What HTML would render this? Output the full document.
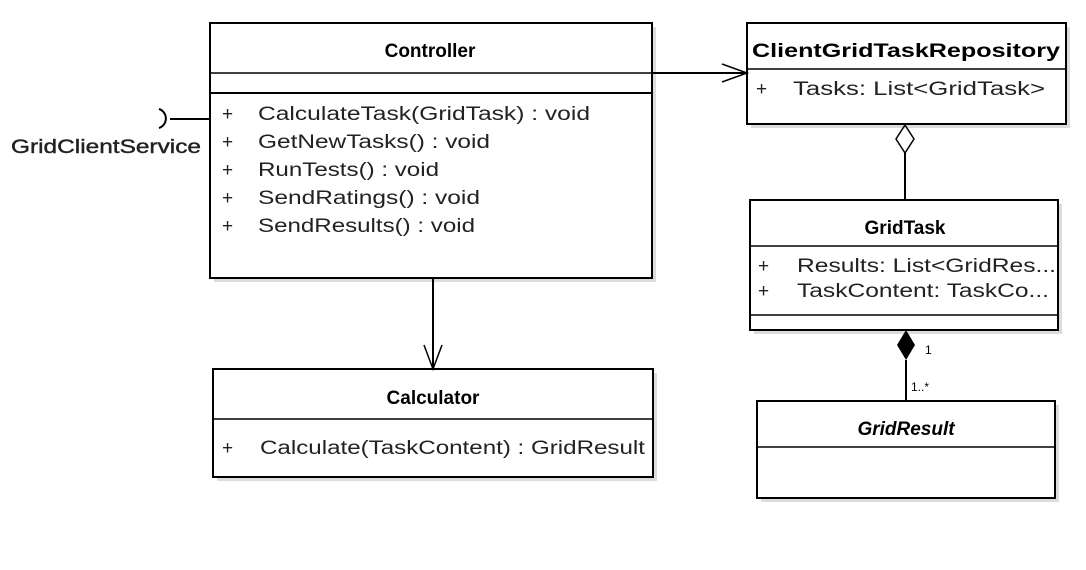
<!DOCTYPE html>
<html><head><style>body{margin:0;background:#fff}svg{display:block}</style></head><body>
<svg width="1086" height="570" xmlns="http://www.w3.org/2000/svg" font-family="Liberation Sans, Arial, sans-serif">
<g fill="#dcdcdc">
<rect x="214" y="27" width="442" height="255"/>
<rect x="217" y="373" width="440" height="108"/>
<rect x="751" y="27" width="319" height="101"/>
<rect x="754" y="204" width="308" height="130"/>
<rect x="761" y="405" width="298" height="97"/>
</g>
<g fill="#fff" stroke="#000" stroke-width="2">
<rect x="210" y="23" width="442" height="255"/>
<rect x="213" y="369" width="440" height="108"/>
<rect x="747" y="23" width="319" height="101"/>
<rect x="750" y="200" width="308" height="130"/>
<rect x="757" y="401" width="298" height="97"/>
</g>
<g stroke="#000" stroke-width="1.5">
<line x1="210" y1="73" x2="652" y2="73"/>
<line x1="210" y1="93" x2="652" y2="93" stroke-width="2"/>
<line x1="213" y1="419" x2="653" y2="419"/>
<line x1="747" y1="69" x2="1066" y2="69"/>
<line x1="750" y1="246" x2="1058" y2="246"/>
<line x1="750" y1="315" x2="1058" y2="315"/>
<line x1="757" y1="447" x2="1055" y2="447"/>
</g>
<g stroke="#000" stroke-width="2" fill="none">
<line x1="170" y1="119" x2="210" y2="119"/>
<path d="M159,109 A10,10 0 0 1 159,128"/>
<line x1="652" y1="73" x2="747" y2="73"/>
<path d="M722,64 L747,73 L722,82" stroke-width="1.5"/>
<line x1="433" y1="278" x2="433" y2="369"/>
<path d="M424,345 L433,369 L442,345" stroke-width="1.5"/>
<line x1="905" y1="153" x2="905" y2="200"/>
<path d="M905,125 L914,139 L905,153 L896,139 Z" stroke-width="1.5"/>
<line x1="906" y1="360" x2="906" y2="401"/>
</g>
<path d="M906,330 L915,345 L906,360 L897,345 Z" fill="#000"/>
<g font-size="19" font-weight="bold" text-anchor="middle">
<text x="430" y="57">Controller</text>
<text x="433" y="404">Calculator</text>
<text x="906" y="57" textLength="308" lengthAdjust="spacingAndGlyphs">ClientGridTaskRepository</text>
<text x="905" y="234">GridTask</text>
<text x="906" y="435" font-style="italic">GridResult</text>
</g>
<g font-size="19" fill="#222">
<text x="11" y="153" textLength="190" lengthAdjust="spacingAndGlyphs" stroke="#222" stroke-width="0.4">GridClientService</text>
<text x="222" y="120">+</text><text x="258" y="120" textLength="332" lengthAdjust="spacingAndGlyphs">CalculateTask(GridTask) : void</text>
<text x="222" y="148">+</text><text x="258" y="148" textLength="232" lengthAdjust="spacingAndGlyphs">GetNewTasks() : void</text>
<text x="222" y="176">+</text><text x="258" y="176" textLength="181" lengthAdjust="spacingAndGlyphs">RunTests() : void</text>
<text x="222" y="204">+</text><text x="258" y="204" textLength="222" lengthAdjust="spacingAndGlyphs">SendRatings() : void</text>
<text x="222" y="232">+</text><text x="258" y="232" textLength="217" lengthAdjust="spacingAndGlyphs">SendResults() : void</text>
<text x="222" y="454">+</text><text x="260" y="454" textLength="385" lengthAdjust="spacingAndGlyphs">Calculate(TaskContent) : GridResult</text>
<text x="756" y="95">+</text><text x="793" y="95" textLength="252" lengthAdjust="spacingAndGlyphs">Tasks:  List&lt;GridTask&gt;</text>
<text x="758" y="272">+</text><text x="797" y="272" textLength="259" lengthAdjust="spacingAndGlyphs">Results:  List&lt;GridRes...</text>
<text x="758" y="297">+</text><text x="797" y="297" textLength="252" lengthAdjust="spacingAndGlyphs">TaskContent:  TaskCo...</text>
</g>
<g font-size="12" fill="#000">
<text x="925" y="354">1</text>
<text x="911" y="391">1..*</text>
</g>
</svg>
</body></html>
